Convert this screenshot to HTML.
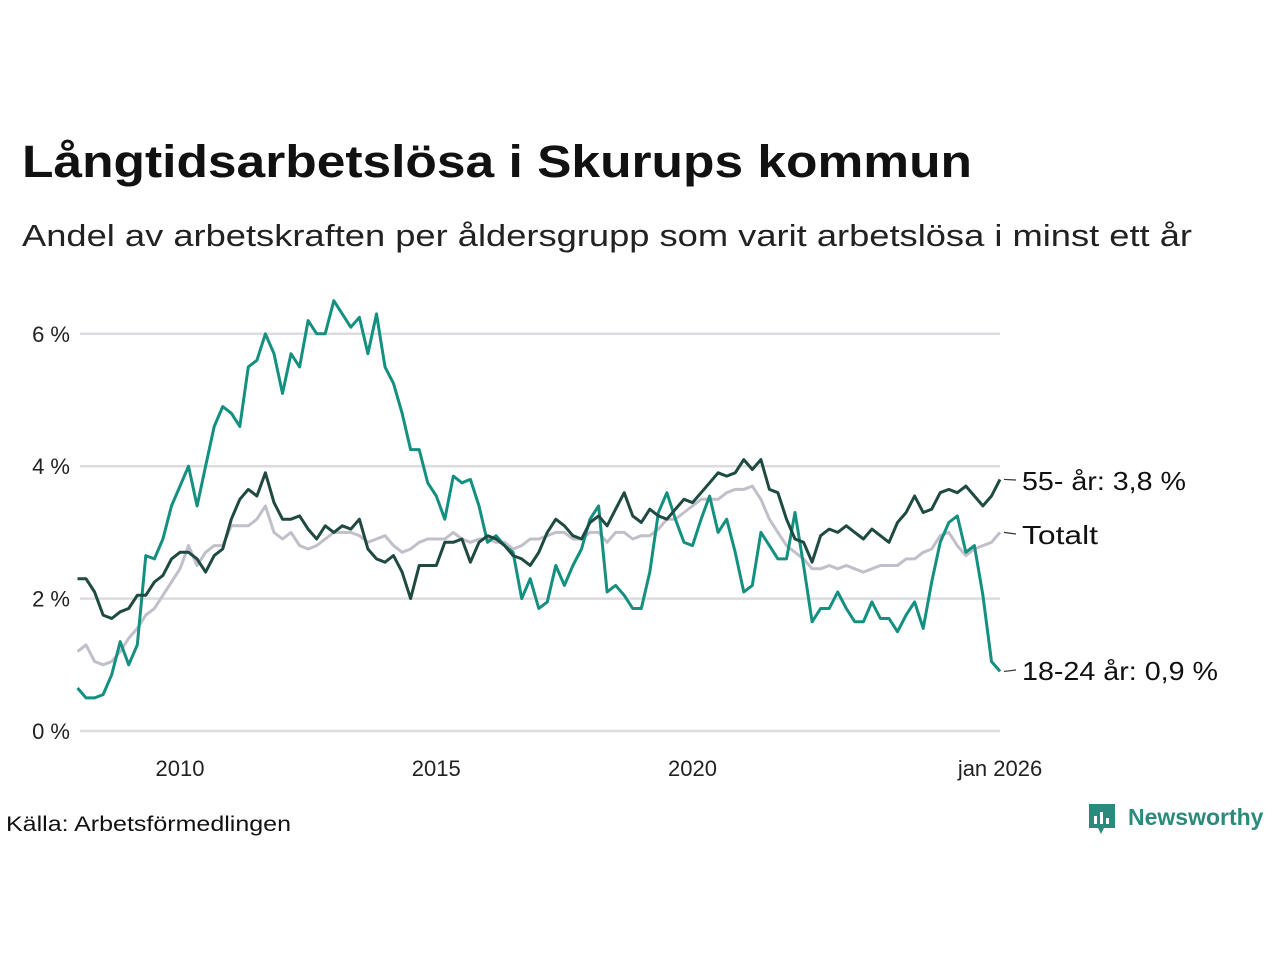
<!DOCTYPE html>
<html><head><meta charset="utf-8">
<style>
body{margin:0;background:#fff;width:1280px;height:960px;overflow:hidden;font-family:"Liberation Sans",sans-serif;color:#111}
#logo{position:absolute;left:1088px;top:804px;font-size:23px;font-weight:bold;color:#2a8a7c}
svg#chart{position:absolute;left:0;top:0}
</style></head><body>
<div id="logo"><svg width="28" height="34" style="position:relative;vertical-align:middle;top:-2px"><rect x="1" y="2" width="26" height="24" fill="#2a8a7c"/><polygon points="10,26 16,26 13,32" fill="#2a8a7c"/><rect x="6" y="14" width="3" height="8" fill="#fff"/><rect x="12" y="10" width="3" height="12" fill="#fff"/><rect x="18" y="16" width="3" height="6" fill="#fff"/></svg><span style="position:absolute;left:40px;top:0">Newsworthy</span></div>
<svg id="chart" width="1280" height="960">
<text x="22" y="177" font-size="45" font-weight="bold" fill="#111" font-family="Liberation Sans, sans-serif" textLength="950" lengthAdjust="spacingAndGlyphs">Långtidsarbetslösa i Skurups kommun</text>
<text x="22" y="246" font-size="31" fill="#222" font-family="Liberation Sans, sans-serif" textLength="1170" lengthAdjust="spacingAndGlyphs">Andel av arbetskraften per åldersgrupp som varit arbetslösa i minst ett år</text>
<text x="6" y="831" font-size="21" fill="#111" font-family="Liberation Sans, sans-serif" textLength="285" lengthAdjust="spacingAndGlyphs">Källa: Arbetsförmedlingen</text>
</svg>
<script>
const yTicks=[0,2,4,6];
const yTickLabels=["0 %","2 %","4 %","6 %"];
const xTicks=[24,84,144,216];
const xTickLabels=["2010","2015","2020","jan 2026"];
const young=[0.65,0.5,0.5,0.55,0.85,1.35,1.0,1.3,2.65,2.6,2.9,3.4,3.7,4.0,3.4,4.0,4.6,4.9,4.8,4.6,5.5,5.6,6.0,5.7,5.1,5.7,5.5,6.2,6.0,6.0,6.5,6.3,6.1,6.25,5.7,6.3,5.5,5.25,4.8,4.25,4.25,3.75,3.55,3.2,3.85,3.75,3.8,3.4,2.85,2.95,2.8,2.7,2.0,2.3,1.85,1.95,2.5,2.2,2.5,2.75,3.2,3.4,2.1,2.2,2.05,1.85,1.85,2.4,3.3,3.6,3.2,2.85,2.8,3.2,3.55,3.0,3.2,2.7,2.1,2.2,3.0,2.8,2.6,2.6,3.3,2.5,1.65,1.85,1.85,2.1,1.85,1.65,1.65,1.95,1.7,1.7,1.5,1.75,1.95,1.55,2.25,2.85,3.15,3.25,2.7,2.8,2.05,1.05,0.9];
const older=[2.3,2.3,2.1,1.75,1.7,1.8,1.85,2.05,2.05,2.25,2.35,2.6,2.7,2.7,2.6,2.4,2.65,2.75,3.2,3.5,3.65,3.55,3.9,3.45,3.2,3.2,3.25,3.05,2.9,3.1,3.0,3.1,3.05,3.2,2.75,2.6,2.55,2.65,2.4,2.0,2.5,2.5,2.5,2.85,2.85,2.9,2.55,2.85,2.95,2.9,2.8,2.65,2.6,2.5,2.7,3.0,3.2,3.1,2.95,2.9,3.15,3.25,3.1,3.35,3.6,3.25,3.15,3.35,3.25,3.2,3.35,3.5,3.45,3.6,3.75,3.9,3.85,3.9,4.1,3.95,4.1,3.65,3.6,3.2,2.9,2.85,2.55,2.95,3.05,3.0,3.1,3.0,2.9,3.05,2.95,2.85,3.15,3.3,3.55,3.3,3.35,3.6,3.65,3.6,3.7,3.55,3.4,3.55,3.8];
const total=[1.2,1.3,1.05,1.0,1.05,1.2,1.4,1.55,1.75,1.85,2.05,2.25,2.45,2.8,2.5,2.7,2.8,2.8,3.1,3.1,3.1,3.2,3.4,3.0,2.9,3.0,2.8,2.75,2.8,2.9,3.0,3.0,3.0,2.95,2.85,2.9,2.95,2.8,2.7,2.75,2.85,2.9,2.9,2.9,3.0,2.9,2.85,2.9,2.9,2.85,2.85,2.75,2.8,2.9,2.9,2.95,3.0,3.0,2.9,2.9,3.0,3.0,2.85,3.0,3.0,2.9,2.95,2.95,3.05,3.2,3.2,3.3,3.4,3.5,3.5,3.5,3.6,3.65,3.65,3.7,3.5,3.2,3.0,2.8,2.7,2.6,2.45,2.45,2.5,2.45,2.5,2.45,2.4,2.45,2.5,2.5,2.5,2.6,2.6,2.7,2.75,2.95,3.0,2.8,2.65,2.75,2.8,2.85,3.0];
const monthStep=2;
const NS="http://www.w3.org/2000/svg";
const svg=document.getElementById('chart');
const xs=m=>180+(m-24)*4.271;
const ys=v=>731-v*66.2;
function mk(t,a){const e=document.createElementNS(NS,t);for(const k in a)e.setAttribute(k,a[k]);svg.appendChild(e);return e;}
yTicks.forEach((v,i)=>{
  const g=mk('line',{x1:80,x2:1000,y1:ys(v),y2:ys(v),stroke:'#dddbe0','stroke-width':2.5});
  
  
  const t=mk('text',{x:70,y:ys(v)+8,'text-anchor':'end','font-size':22,fill:'#222','font-family':'Liberation Sans, sans-serif'});
  t.textContent=yTickLabels[i];
  
  
});
xTicks.forEach((m,i)=>{
  const t=mk('text',{x:xs(m),y:776,'text-anchor':'middle','font-size':22,fill:'#222','font-family':'Liberation Sans, sans-serif'});
  t.textContent=xTickLabels[i];
  
  
});
function series(arr,color,name){
  const d=arr.map((v,i)=>(i?'L':'M')+xs(i*monthStep).toFixed(1)+','+ys(v).toFixed(1)).join('');
  const p=mk('path',{d:d,fill:'none',stroke:color,'stroke-width':3,'stroke-linejoin':'round'});
  
  
  return p;
}
series(total,'#c2bfca','line-totalt');
series(young,'#13907f','line-18-24');
series(older,'#1f4a42','line-55');
const labels=[[older,"55- år: 3,8 %",481,164],[total,"Totalt",535,76],[young,"18-24 år: 0,9 %",671,196]];
labels.forEach(([arr,txt,ly,w])=>{
  const last=arr[arr.length-1];
  const l=mk('line',{x1:1004,y1:ys(last),x2:1016,y2:ly-1,stroke:'#333','stroke-width':1.2});
  
  
  const t=mk('text',{x:1022,y:ly+9,'font-size':26,fill:'#111','font-family':'Liberation Sans, sans-serif',textLength:w,lengthAdjust:'spacingAndGlyphs'});
  t.textContent=txt;
  
  
});
</script>
</body></html>
